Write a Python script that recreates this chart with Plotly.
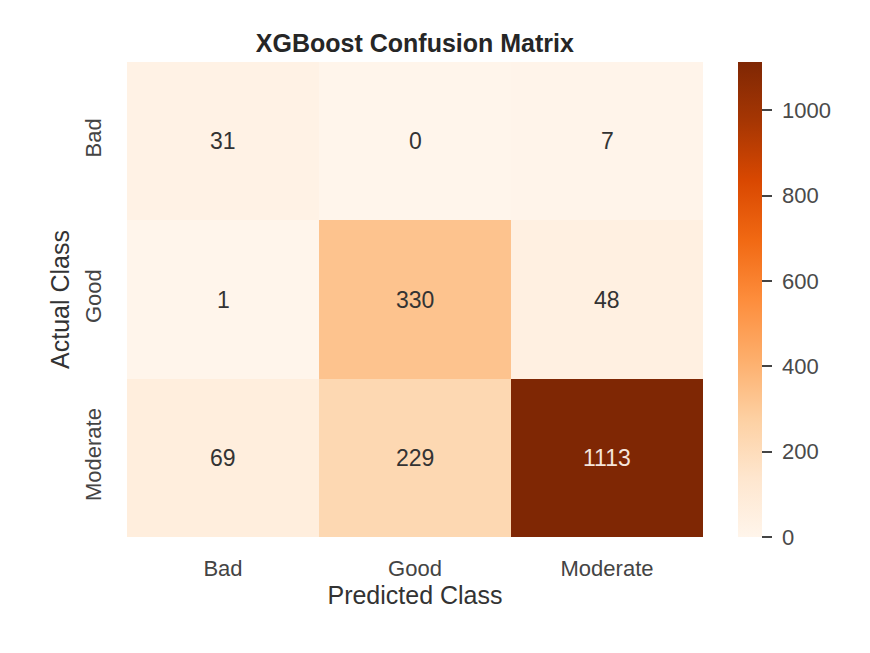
import plotly.graph_objects as go

# Confusion matrix values (rows = actual, cols = predicted)
classes = ["Bad", "Good", "Moderate"]
row_bad = [31, 0, 7]
row_good = [1, 330, 48]
row_moderate = [69, 229, 1113]
colorbar_ticks = [0, 200, 400, 600, 800, 1000]

matrix = [row_bad, row_good, row_moderate]
zmax = max(max(r) for r in matrix)

FONT = "Liberation Sans, Arial"

fig = go.Figure()

fig.add_trace(go.Heatmap(
    z=matrix,
    x=classes,
    y=classes,
    colorscale="Oranges",
    zmin=0,
    zmax=zmax,
    hovertemplate="Actual: %{y}<br>Predicted: %{x}<br>Count: %{z}<extra></extra>",
    colorbar=dict(
        x=1.043,
        xanchor="left",
        y=0.5,
        yanchor="middle",
        len=1.0,
        lenmode="fraction",
        ypad=0,
        thickness=24,
        outlinewidth=0,
        tickvals=colorbar_ticks,
        # small nbsp pad so labels sit a bit further from the tick marks
        ticktext=["\u00a0" + str(v) for v in colorbar_ticks],
        ticks="outside",
        ticklen=10,
        tickwidth=2,
        tickcolor="#444444",
        tickfont=dict(family=FONT, size=22, color="#4a4a4a"),
    ),
))

# annotate each cell, light text on dark cells like seaborn
for i, actual in enumerate(classes):
    for j, predicted in enumerate(classes):
        val = matrix[i][j]
        fig.add_annotation(
            x=predicted, y=actual, text=str(val), showarrow=False,
            font=dict(family=FONT, size=23,
                      color="#f5e6dc" if val > zmax * 0.6 else "#333333"),
        )

fig.update_layout(
    width=862,
    height=645,
    margin=dict(l=119, r=167, t=54, b=116),
    paper_bgcolor="white",
    plot_bgcolor="white",
    title=dict(
        text="<b>XGBoost Confusion Matrix</b>",
        x=0.472, xanchor="center",
        y=0.946, yanchor="middle",
        font=dict(family=FONT, size=25, color="#262626"),
    ),
    xaxis=dict(
        title=dict(text="Predicted Class", standoff=4,
                   font=dict(family=FONT, size=25, color="#333333")),
        tickfont=dict(family=FONT, size=22, color="#444444"),
        ticks="outside", ticklen=12, tickcolor="rgba(0,0,0,0)",
        showgrid=False, zeroline=False, showline=False,
    ),
    yaxis=dict(
        title=dict(text="Actual Class", standoff=4,
                   font=dict(family=FONT, size=25, color="#333333")),
        tickfont=dict(family=FONT, size=22, color="#444444"),
        tickangle=-90,
        autorange="reversed",
        ticks="outside", ticklen=16, tickcolor="rgba(0,0,0,0)",
        showgrid=False, zeroline=False, showline=False,
    ),
)

fig.write_html("out.html")
